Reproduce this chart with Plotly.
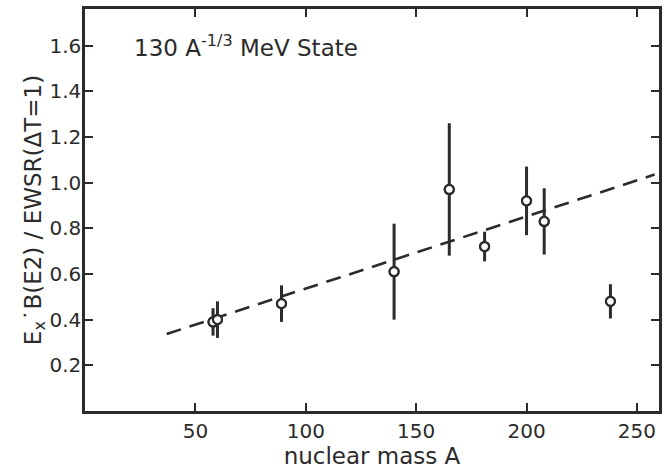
import plotly.graph_objects as go

# Measured ratios versus nuclear mass number
mass_A = [58, 60, 89, 140, 165, 181, 200, 208, 238]
ratio = [0.39, 0.40, 0.47, 0.61, 0.97, 0.72, 0.92, 0.83, 0.48]
ratio_err = [0.06, 0.08, 0.08, 0.21, 0.29, 0.065, 0.15, 0.145, 0.075]

# Systematic trend (dashed)
trend_A = [37, 258]
trend_y = [0.337, 1.035]

x_ticks = [50, 100, 150, 200, 250]
y_ticks = [0.2, 0.4, 0.6, 0.8, 1.0, 1.2, 1.4, 1.6]
y_tick_text = ["0.2", "0.4", "0.6", "0.8", "1.0", "1.2", "1.4", "1.6"]

ink = "#2b2b2b"
font_family = "DejaVu Sans"

fig = go.Figure()

fig.add_trace(go.Scatter(
    x=trend_A, y=trend_y, mode="lines",
    line=dict(color=ink, width=2.6, dash="15px,9px"),
    hoverinfo="skip", showlegend=False,
))

fig.add_trace(go.Scatter(
    x=mass_A, y=ratio, mode="markers",
    marker=dict(symbol="circle-open", size=9, color=ink, line=dict(width=2.2, color=ink)),
    error_y=dict(type="data", array=ratio_err, visible=True, color=ink, thickness=3, width=0),
    showlegend=False,
))

# open circles filled white so the error bar does not show through
fig.add_trace(go.Scatter(
    x=mass_A, y=ratio, mode="markers",
    marker=dict(symbol="circle", size=9, color="white", line=dict(width=2.2, color=ink)),
    showlegend=False, hoverinfo="skip",
))

axis_common = dict(
    showgrid=False, zeroline=False, showline=True, linecolor=ink, linewidth=2.5,
    mirror="ticks", ticks="inside", ticklen=8, tickwidth=2, tickcolor=ink,
    tickfont=dict(family=font_family, size=20, color=ink),
)

fig.update_layout(
    width=672, height=469,
    margin=dict(l=85, r=13, t=6, b=58),
    paper_bgcolor="white", plot_bgcolor="white",
    font=dict(family=font_family, color=ink),
    xaxis=dict(
        range=[0, 260], tickvals=x_ticks,
        title=dict(text="nuclear mass A", font=dict(family=font_family, size=23, color=ink), standoff=0),
        **axis_common,
    ),
    yaxis=dict(
        range=[0, 1.76], tickvals=y_ticks, ticktext=y_tick_text,
        ticklabelstandoff=-3,
        title=dict(text="E<sub>x</sub>˙B(E2) / EWSR(ΔT=1)", font=dict(family=font_family, size=23, color=ink), standoff=2),
        **axis_common,
    ),
    annotations=[dict(
        xref="paper", yref="paper", x=0.082, y=0.95, xanchor="left", yanchor="top",
        text="130 A<sup>-1/3</sup> MeV State", showarrow=False,
        font=dict(family=font_family, size=23, color=ink),
    )],
)

fig.write_html("out.html")
